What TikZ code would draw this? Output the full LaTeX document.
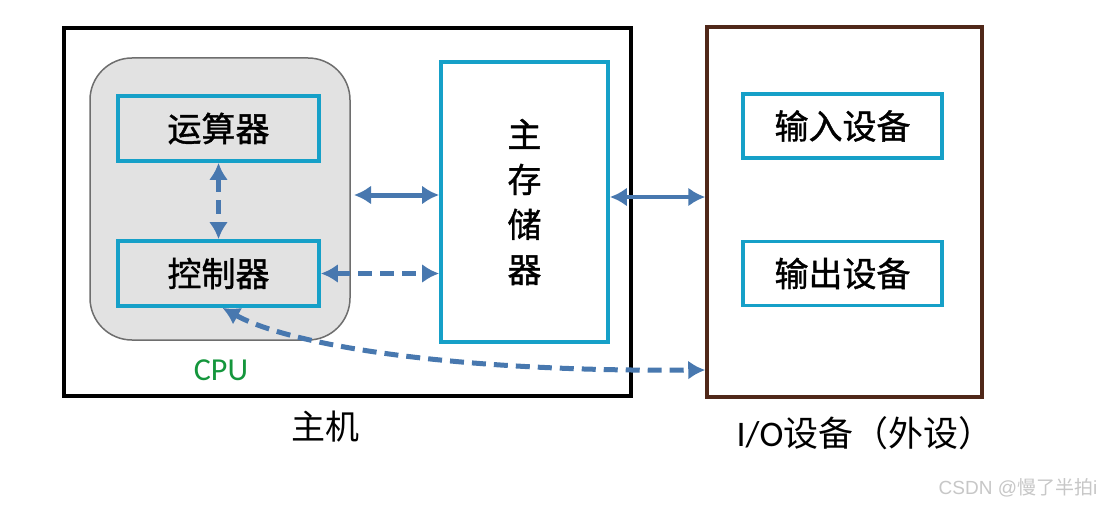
\documentclass[tikz,border=0pt]{standalone}
\usepackage{fontspec}
\setmainfont{Carlito}
\newfontfamily\cjk{Noto Sans CJK SC}[FakeBold=1.2]
\newfontfamily\cjkplain{Noto Sans CJK SC}
\usetikzlibrary{arrows.meta}
\definecolor{cyanb}{RGB}{22,160,200}
\definecolor{arrowc}{RGB}{72,120,175}
\definecolor{cpugray}{RGB}{226,226,226}
\definecolor{cpuborder}{RGB}{110,110,110}
\definecolor{iobrown}{RGB}{80,40,25}
\definecolor{cpugreen}{RGB}{20,150,60}
\tikzset{
  unitbox/.style={draw=cyanb, line width=3.8pt, fill=cpugray, minimum width=201pt, minimum height=65pt, inner sep=0pt, font=\cjk\fontsize{34}{40}\selectfont},
  devbox/.style={draw=cyanb, line width=3.8pt, fill=white, minimum width=199pt, minimum height=64pt, inner sep=0pt, font=\cjk\fontsize{34}{40}\selectfont},
  link/.style={draw=arrowc, line width=5pt, {Latex[length=17pt,width=19pt]}-{Latex[length=17pt,width=19pt]}},
  dlink/.style={link, dash pattern=on 14pt off 8pt},
  captext/.style={font=\cjkplain\fontsize{34}{40}\selectfont}
}
\begin{document}
\begin{tikzpicture}[x=1pt,y=-1pt]
\useasboundingbox (0,0) rectangle (1111,508);
\fill[white] (0,0) rectangle (1111,508);
% host
\node[draw=black, line width=4pt, minimum width=567pt, minimum height=368pt, inner sep=0pt] (host) at (347.5,212) {};
% CPU
\node[draw=cpuborder, line width=1.5pt, fill=cpugray, rounded corners=42pt, minimum width=260pt, minimum height=282pt, inner sep=0pt] (cpu) at (220,199) {};
\node[unitbox] (alu) at (218.5,128.5) {运算器};
\node[unitbox] (cu) at (218.5,273.5) {控制器};
% memory
\node[draw=cyanb, line width=3.8pt, fill=white, minimum width=167pt, minimum height=280pt, inner sep=0pt, align=center, font=\cjk\fontsize{34}{45}\selectfont] (mem) at (524.5,202) {主\\存\\储\\器};
% IO
\node[draw=iobrown, line width=3.5pt, minimum width=275pt, minimum height=370pt, inner sep=0pt] (io) at (844.5,212) {};
\node[devbox] (in) at (842.5,126) {输入设备};
\node[devbox] (out) at (842.5,273.5) {输出设备};
% labels
\node[text=cpugreen, font=\fontsize{32}{36}\selectfont] (cpulabel) at (221,370) {CPU};
\node[captext] (hostlabel) at (325,427) {主机};
\node[captext, anchor=center] (iolabel) at (865,433) {\fontspec{Carlito}\fontsize{36}{40}\selectfont I/O\cjkplain\fontsize{35}{40}\selectfont 设备（外设）};
\node[text=black!22, font=\cjkplain\fontsize{19}{22}\selectfont] (wm) at (1018,488) {\fontspec{Liberation Sans}CSDN @\cjkplain 慢了半拍\fontspec{Liberation Sans}i};
% connectors
\draw[dlink] (alu.south) -- (cu.north);
\draw[link] (354,195) -- (mem.west |- 0,195);
\draw[dlink] (cu.east) -- (mem.west |- cu.east);
\draw[link, line width=4pt] (mem.east |- 0,197) -- (io.west |- 0,197);
\draw[dlink] ([xshift=4pt]cu.south) .. controls (290,345) and (450,372) .. (io.west |- 0,370);
\end{tikzpicture}
\end{document}
